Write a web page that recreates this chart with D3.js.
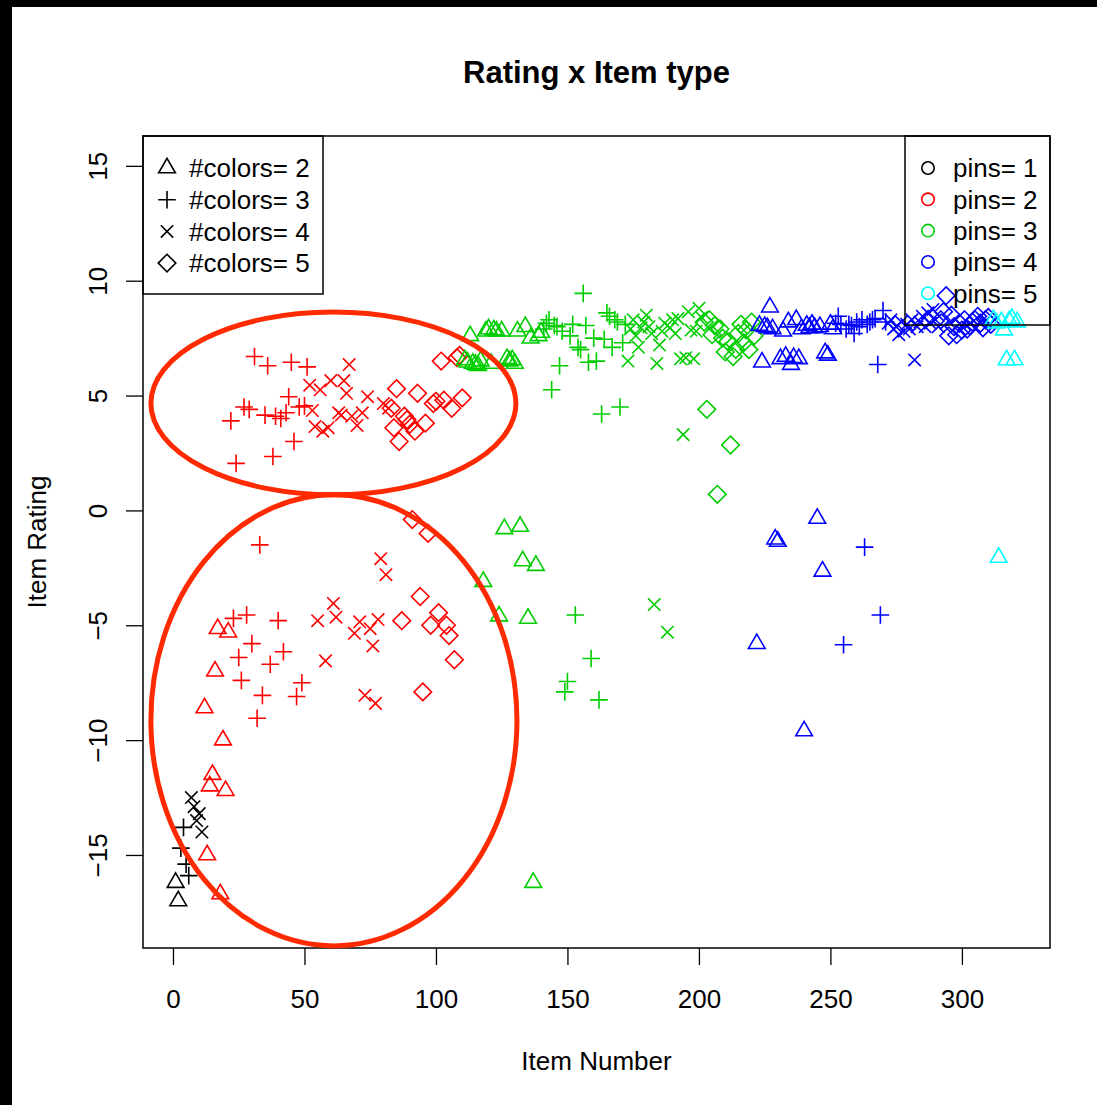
<!DOCTYPE html>
<html>
<head>
<meta charset="utf-8">
<script src="https://cdn.jsdelivr.net/npm/d3@7"></script>
<style>
  body { margin: 0; background: #fff; }
  svg { display: block; font-family: "Liberation Sans", Arial, Helvetica, sans-serif; }
</style>
</head>
<body>
<div class="board"></div>
<script>
// legend levels
const pinLevels = [1, 2, 3, 4, 5];
const colorLevels = [2, 3, 4, 5];
const xTicks = [0, 50, 100, 150, 200, 250, 300];
const yTicks = [-15, -10, -5, 0, 5, 10, 15];

// [item number, rating], one array per pins / #colors group
const p1c2 = [[1,-16.2],[2,-17.0]];
const p1c3 = [[3,-14.7],[4,-13.8],[5,-15.4],[6,-15.9]];
const p1c4 = [[7,-12.5],[8,-12.9],[9,-13.5],[10,-13.2],[11,-14.0]];

const p2c2 = [[12,-8.6],[13,-15.0],[14,-12.0],[15,-11.5],[16,-7.0],[17,-5.15],[18,-16.7],[19,-10.0],[20,-12.2],[21,-5.3]];
const p2c3 = [[22,3.9],[23,-4.7],[24,2.05],[25,-6.4],[26,-7.4],[27,4.5],[28,-4.55],[29,4.4],[30,-5.8],[31,6.7],
  [32,-9.05],[33,-1.5],[34,-8.05],[35,4.15],[36,6.3],[37,-6.7],[38,2.35],[39,4.1],[40,-4.8],[41,4.0],
  [42,-6.15],[43,4.25],[44,4.95],[45,6.45],[46,3.0],[47,-8.1],[48,4.5],[49,-7.5],[50,4.55],[51,6.25]];
const p2c4 = [[52,5.45],[53,4.35],[54,3.65],[55,-4.8],[56,5.25],[57,3.45],[58,-6.55],[59,3.6],[60,5.65],[61,-4.05],
  [62,-4.65],[63,4.25],[64,4.15],[65,5.65],[66,5.1],[67,6.35],[68,4.1],[69,-5.35],[70,3.7],[71,-4.85],
  [72,4.25],[73,-8.05],[74,4.95],[75,-5.15],[76,-5.9],[77,-8.4],[78,-4.75],[79,-2.1],[80,4.65],[81,-2.8],[82,4.45]];
const p2c5 = [[83,4.45],[84,3.6],[85,5.3],[86,3.0],[87,-4.8],[88,4.1],[89,3.95],[90,3.75],[91,-0.4],[92,3.45],
  [93,5.1],[94,-3.75],[95,-7.9],[96,3.8],[97,-1.0],[98,-5.0],[99,4.65],[100,4.75],[101,-4.45],[102,6.5],
  [103,4.8],[104,-5.0],[105,-5.45],[106,4.45],[107,-6.5],[108,6.65],[109,6.75],[110,4.9]];

const p3c2 = [[111,6.55],[112,6.45],[113,7.6],[114,6.4],[115,6.35],[116,6.3],[117,6.5],[118,-3.1],[119,7.8],[120,7.9],
  [121,6.4],[122,7.85],[123,7.8],[124,-4.6],[125,7.8],[126,-0.8],[127,6.6],[128,6.5],[129,6.55],[130,6.4],
  [131,7.8],[132,-0.7],[133,-2.2],[134,8.0],[135,-4.7],[136,7.5],[137,-16.2],[138,-2.4],[139,7.6],[140,7.75]];
const p3c3 = [[141,7.9],[142,8.15],[143,8.3],[144,5.25],[145,8.05],[146,8.0],[147,6.3],[148,7.8],[149,-7.9],[150,-7.45],
  [151,7.6],[152,8.1],[153,-4.55],[154,7.1],[155,7.0],[156,9.45],[157,8.05],[158,6.45],[159,-6.45],[160,7.5],
  [161,6.5],[162,-8.25],[163,4.2],[164,7.45],[165,8.6],[166,8.45],[167,7.1],[168,8.3],[169,8.2],[170,4.5],[171,7.3],[172,8.1]];
const p3c4 = [[173,6.5],[174,7.9],[175,8.3],[176,7.6],[177,7.1],[178,7.95],[179,8.2],[180,8.5],[181,8.0],[182,7.7],
  [183,-4.1],[184,6.4],[185,7.2],[186,7.8],[187,8.15],[188,-5.3],[189,7.95],[190,8.3],[191,7.7],[192,8.35],
  [193,6.6],[194,3.3],[195,6.65],[196,8.65],[197,7.85],[198,6.6],[199,7.8],[200,8.8],[201,8.4]];
const p3c5 = [[202,8.2],[203,4.4],[204,8.3],[205,7.65],[206,8.05],[207,0.7],[208,7.9],[209,7.5],[210,6.9],[211,7.35],
  [212,2.85],[213,6.7],[214,7.0],[215,7.7],[216,8.1],[217,7.3],[218,7.85],[219,7.0],[220,8.2],[221,7.6]];

const p4c2 = [[222,-5.8],[223,8.05],[224,6.45],[225,8.0],[226,7.95],[227,8.85],[228,7.9],[229,-1.25],[230,-1.35],[231,6.6],
  [232,7.8],[233,6.7],[234,8.2],[235,6.35],[236,6.65],[237,8.3],[238,6.6],[239,7.9],[240,-9.6],[241,8.05],
  [242,7.95],[243,8.1],[244,7.95],[245,-0.35],[246,8.0],[247,-2.65],[248,6.85],[249,6.75],[250,8.1],[251,7.9]];
const p4c3 = [[252,8.15],[253,8.45],[254,8.1],[255,-5.85],[256,7.9],[257,8.1],[258,8.05],[259,7.7],[260,8.2],[261,8.0],
  [262,8.3],[263,-1.6],[264,8.1],[265,8.2],[266,8.3],[267,8.35],[268,6.35],[269,-4.55],[270,8.7],[271,8.2]];
const p4c4 = [[272,8.15],[273,8.3],[274,7.9],[275,8.0],[276,7.65],[277,8.2],[278,7.8],[279,8.1],[280,7.9],[281,8.3],
  [282,6.55],[283,8.0],[284,8.2],[285,8.45],[286,8.0],[287,8.6],[288,8.15],[289,8.75],[290,8.3],[291,8.0]];
const p4c5 = [[292,8.3],[293,8.65],[294,9.35],[295,7.6],[296,8.5],[297,8.0],[298,7.65],[299,8.15],[300,7.85],[301,8.3],
  [302,7.9],[303,8.05],[304,8.2],[305,8.3],[306,8.45],[307,8.15],[308,7.95],[309,8.3],[310,8.4],[311,8.1]];

const p5c2 = [[312,8.3],[313,8.15],[314,-2.05],[315,8.2],[316,7.85],[317,6.55],[318,8.25],[319,8.35],[320,6.55],[321,8.2]];

// hand drawn rings, in data units
const rings = [
  { cx: 61, cy: 4.66, rx: 69.4, ry: 3.98 },
  { cx: 61.2, cy: -9.14, rx: 69.6, ry: 9.82 }
];

// build one table from the groups
const groups = [
  [1,2,p1c2],[1,3,p1c3],[1,4,p1c4],
  [2,2,p2c2],[2,3,p2c3],[2,4,p2c4],[2,5,p2c5],
  [3,2,p3c2],[3,3,p3c3],[3,4,p3c4],[3,5,p3c5],
  [4,2,p4c2],[4,3,p4c3],[4,4,p4c4],[4,5,p4c5],
  [5,2,p5c2]
];
let points = [];
groups.forEach(g => {
  g[2].forEach(p => points.push({ item: p[0], rating: p[1], pins: g[0], colors: g[1] }));
});
points.sort((a, b) => a.item - b.item);

const width = 1097, height = 1105;
const margin = { top: 136, right: 47, bottom: 157, left: 143 };
const font = '"Liberation Sans", Arial, Helvetica, sans-serif';

const pinColour = d3.scaleOrdinal().domain(pinLevels)
  .range(['#000000', '#ff0000', '#00cd00', '#0000ff', '#00ffff']);

// R style pch shapes: 2 triangle, 3 plus, 4 cross, 5 diamond
const shapes = {
  2: 'M0,-9.6L8.35,4.8L-8.35,4.8Z',
  3: 'M-8.8,0H8.8M0,-8.8V8.8',
  4: 'M-6.2,-6.2L6.2,6.2M-6.2,6.2L6.2,-6.2',
  5: 'M0,-8.8L8.8,0L0,8.8L-8.8,0Z'
};

const svg = d3.select('.board').append('svg')
  .attr('width', width)
  .attr('height', height);

svg.append('rect').attr('width', width).attr('height', height).attr('fill', '#fff');

// black frame bits at the left and top of the original screenshot
svg.append('rect').attr('x', 0).attr('y', 0).attr('width', 12).attr('height', height).attr('fill', '#000');
svg.append('rect').attr('x', 0).attr('y', 0).attr('width', width).attr('height', 7).attr('fill', '#000');

const x = d3.scaleLinear()
  .domain([-11.4, 333.5])
  .range([margin.left, width - margin.right]);
const y = d3.scaleLinear()
  .domain([-19.05, 16.3])
  .range([height - margin.bottom, margin.top]);

// x axis
const xAxis = svg.append('g')
  .attr('transform', `translate(0,${height - margin.bottom})`)
  .call(d3.axisBottom(x).tickValues(xTicks).tickSize(17).tickSizeOuter(0));
xAxis.select('.domain').remove();
xAxis.selectAll('line').attr('stroke', '#000').attr('stroke-width', 1.3);
xAxis.selectAll('text')
  .attr('y', 60).attr('dy', null)
  .attr('font-size', 26).attr('font-family', font).attr('fill', '#000');

// y axis, labels turned like R does
const yAxis = svg.append('g')
  .attr('transform', `translate(${margin.left},0)`)
  .call(d3.axisLeft(y).tickValues(yTicks).tickSize(17).tickSizeOuter(0));
yAxis.select('.domain').remove();
yAxis.selectAll('line').attr('stroke', '#000').attr('stroke-width', 1.3);
yAxis.selectAll('text')
  .attr('x', null).attr('dy', null)
  .attr('transform', 'translate(-36,0) rotate(-90)')
  .attr('text-anchor', 'middle')
  .attr('font-size', 26).attr('font-family', font).attr('fill', '#000');

// points
svg.append('g').selectAll('path')
  .data(points)
  .join('path')
  .attr('d', d => shapes[d.colors])
  .attr('transform', d => `translate(${x(d.item)},${y(d.rating)})`)
  .attr('fill', 'none')
  .attr('stroke', d => pinColour(d.pins))
  .attr('stroke-width', 1.6);

// plot box
svg.append('rect')
  .attr('x', margin.left).attr('y', margin.top)
  .attr('width', width - margin.left - margin.right)
  .attr('height', height - margin.top - margin.bottom)
  .attr('fill', 'none').attr('stroke', '#000').attr('stroke-width', 1.5);

// legend: #colors (top left)
const leg1 = svg.append('g');
leg1.append('rect')
  .attr('x', margin.left).attr('y', margin.top)
  .attr('width', 180).attr('height', 158)
  .attr('fill', 'none').attr('stroke', '#000').attr('stroke-width', 1.5);
colorLevels.forEach((c, i) => {
  const ry = margin.top + 32 + i * 31.7;
  leg1.append('path')
    .attr('d', shapes[c])
    .attr('transform', `translate(${margin.left + 24},${ry})`)
    .attr('fill', 'none').attr('stroke', '#000').attr('stroke-width', 1.6);
  leg1.append('text')
    .attr('x', margin.left + 46).attr('y', ry).attr('dy', '0.36em')
    .attr('font-size', 26).attr('fill', '#000')
    .text('#colors= ' + c);
});

// legend: pins (top right)
const leg2 = svg.append('g');
const leg2Left = width - margin.right - 145;
leg2.append('rect')
  .attr('x', leg2Left).attr('y', margin.top)
  .attr('width', 145).attr('height', 189)
  .attr('fill', 'none').attr('stroke', '#000').attr('stroke-width', 1.5);
pinLevels.forEach((p, i) => {
  const ry = margin.top + 32 + i * 31.3;
  leg2.append('circle')
    .attr('cx', leg2Left + 23).attr('cy', ry).attr('r', 6.2)
    .attr('fill', 'none').attr('stroke', pinColour(p)).attr('stroke-width', 1.6);
  leg2.append('text')
    .attr('x', leg2Left + 48).attr('y', ry).attr('dy', '0.36em')
    .attr('font-size', 26).attr('fill', '#000')
    .text('pins= ' + p);
});

// red rings drawn over the chart
svg.append('g').selectAll('ellipse')
  .data(rings)
  .join('ellipse')
  .attr('cx', d => x(d.cx))
  .attr('cy', d => y(d.cy))
  .attr('rx', d => x(d.cx + d.rx) - x(d.cx))
  .attr('ry', d => y(d.cy - d.ry) - y(d.cy))
  .attr('fill', 'none')
  .attr('stroke', '#ff2a00')
  .attr('stroke-width', 5);

// titles
svg.append('text')
  .attr('x', (margin.left + width - margin.right) / 2).attr('y', 83)
  .attr('text-anchor', 'middle')
  .attr('font-size', 31).attr('font-weight', 'bold')
  .text('Rating x Item type');

svg.append('text')
  .attr('x', (margin.left + width - margin.right) / 2).attr('y', 1070)
  .attr('text-anchor', 'middle')
  .attr('font-size', 26)
  .text('Item Number');

svg.append('text')
  .attr('transform', `translate(46,${(margin.top + height - margin.bottom) / 2}) rotate(-90)`)
  .attr('text-anchor', 'middle')
  .attr('font-size', 26)
  .text('Item Rating');
</script>
</body>
</html>
